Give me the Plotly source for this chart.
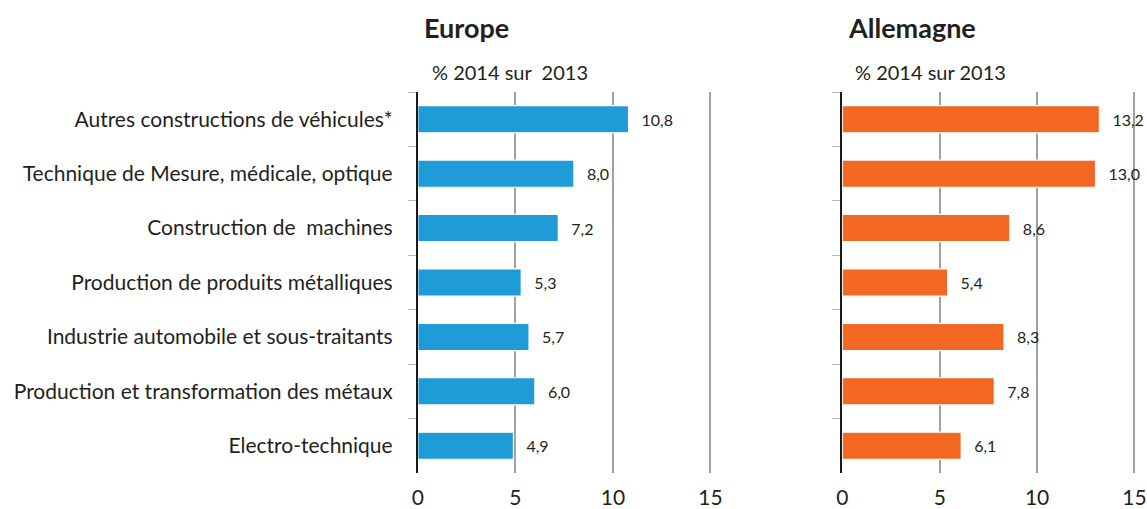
import plotly.graph_objects as go
from plotly.subplots import make_subplots

categories = [
    "Autres constructions de véhicules*",
    "Technique de Mesure, médicale, optique",
    "Construction de  machines",
    "Production de produits métalliques",
    "Industrie automobile et sous-traitants",
    "Production et transformation des métaux",
    "Electro-technique",
]
europe = [10.8, 8.0, 7.2, 5.3, 5.7, 6.0, 4.9]
allemagne = [13.2, 13.0, 8.6, 5.4, 8.3, 7.8, 6.1]
x_ticks = [0, 5, 10, 15]

W, H = 1147, 509
XMAX = 15.08  # a bit past 15 so plotly keeps the 15 gridline


def px(x):
    # horizontal pixel -> paper fraction (small correction for the viewer)
    return (x - 4.7) / 0.985 / W


def py(y):
    return 1 - y / H


def fr(v):
    return "\u2002\u2009" + f"{v:.1f}".replace(".", ",")


FONT = "Lato, 'Open Sans', sans-serif"
TXT = "#231f20"

fig = make_subplots(rows=1, cols=2)
fig.add_trace(go.Bar(y=categories, x=europe, orientation="h",
                     marker=dict(color="#1f9bd7", line=dict(color="white", width=1.2)),
                     text=[fr(v) for v in europe], textposition="outside",
                     textfont=dict(size=16, color=TXT), cliponaxis=False),
              row=1, col=1)
fig.add_trace(go.Bar(y=categories, x=allemagne, orientation="h",
                     marker=dict(color="#f26722", line=dict(color="white", width=1.2)),
                     text=[fr(v) for v in allemagne], textposition="outside",
                     textfont=dict(size=16, color=TXT), cliponaxis=False),
              row=1, col=2)

xcommon = dict(range=[0, XMAX], tickvals=x_ticks, showgrid=True, gridcolor="#a0a0a0",
               gridwidth=1.5, zeroline=False, showline=False, ticks="",
               tickfont=dict(size=21, color=TXT), ticklabelstandoff=10, fixedrange=True)
ycommon = dict(autorange="reversed", showline=True, linecolor="#1a1a1a", linewidth=2,
               ticks="outside", tickson="boundaries", ticklen=8, tickcolor="#b8b8b8",
               tickwidth=1, showgrid=False, fixedrange=True)

fig.update_xaxes(domain=[px(416.5), px(416.5 + XMAX * 19.5)], row=1, col=1, **xcommon)
fig.update_xaxes(domain=[px(841), 1], row=1, col=2, **xcommon)
fig.update_yaxes(domain=[py(473), py(92)], row=1, col=1,
                 tickfont=dict(size=21, color=TXT), ticklabelstandoff=19, **ycommon)
fig.update_yaxes(domain=[py(473), py(92)], row=1, col=2,
                 showticklabels=False, **ycommon)

fig.add_annotation(text="<b>Europe</b>", x=px(421), y=py(28), xref="paper", yref="paper",
                   xanchor="left", yanchor="middle", showarrow=False, font=dict(size=27, color=TXT))
fig.add_annotation(text="% 2014 sur  2013", x=px(429), y=py(72), xref="paper", yref="paper",
                   xanchor="left", yanchor="middle", showarrow=False, font=dict(size=20, color=TXT))
fig.add_annotation(text="<b>Allemagne</b>", x=px(845), y=py(28), xref="paper", yref="paper",
                   xanchor="left", yanchor="middle", showarrow=False, font=dict(size=27, color=TXT))
fig.add_annotation(text="% 2014 sur 2013", x=px(852), y=py(72), xref="paper", yref="paper",
                   xanchor="left", yanchor="middle", showarrow=False, font=dict(size=20, color=TXT))

fig.update_layout(
    autosize=True,
    margin=dict(l=0, r=0, t=0, b=0),
    paper_bgcolor="white", plot_bgcolor="white",
    showlegend=False, bargap=0.5,
    font=dict(family=FONT, color=TXT),
)
fig.write_html(
    "out.html",
    config={"displayModeBar": False, "responsive": True},
    default_width="100vw", default_height="100vh",
    post_script=(
        "document.documentElement.style.overflow='hidden';"
        "document.body.style.margin='0';document.body.style.overflow='hidden';"
        "Plotly.Plots.resize(document.getElementById('{plot_id}'));"
    ),
)
